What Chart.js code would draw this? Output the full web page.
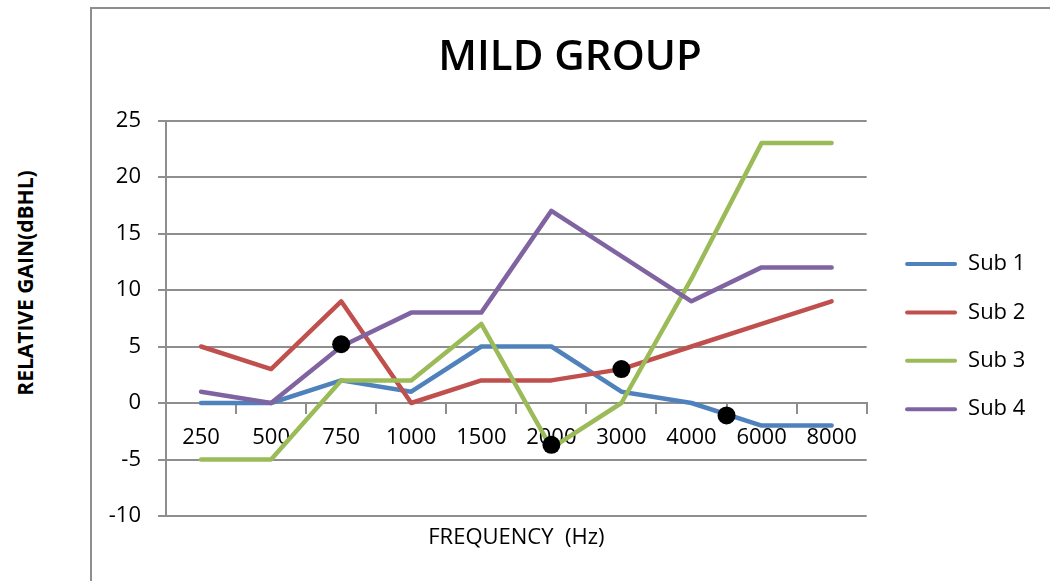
<!DOCTYPE html>
<html>
<head>
<meta charset="utf-8">
<title>MILD GROUP</title>
<script src="https://cdn.jsdelivr.net/npm/chart.js@4.4.1/dist/chart.umd.min.js"></script>
<style>
  html, body { margin: 0; padding: 0; background: #fff; width: 1050px; height: 581px; overflow: hidden; }
  #frame { position: absolute; left: 90px; top: 7px; width: 1100px; height: 700px;
           border-left: 2px solid #8e8e8e; border-top: 2px solid #8e8e8e; }
  #wrap { position: absolute; left: 91px; top: 8px; width: 959px; height: 573px; }
  #ytitle { position: absolute; left: 25px; top: 283px; transform: translate(-50%, -50%) rotate(-90deg);
            font: bold 21px 'Open Sans', sans-serif; color: #000; white-space: nowrap; }
</style>
</head>
<body>
<div id="frame"></div>
<div id="ytitle">RELATIVE GAIN(dBHL)</div>
<div id="wrap"><canvas id="chart" width="959" height="573"></canvas></div>
<script>
// Test frequencies (Hz)
const frequencies = ['250', '500', '750', '1000', '1500', '2000', '3000', '4000', '6000', '8000'];

// Relative gain (dBHL) per subject
const sub1 = [0, 0, 2, 1, 5, 5, 1, 0, -2, -2];
const sub2 = [5, 3, 9, 0, 2, 2, 3, 5, 7, 9];
const sub3 = [-5, -5, 2, 2, 7, -4, 0, 11, 23, 23];
const sub4 = [1, 0, 5, 8, 8, 17, 13, 9, 12, 12];

// Marked points: position along the frequency axis (category index) and gain
const markX = [2, 5, 6, 7.5];
const markY = [5.2, -3.7, 3, -1.1];

const seriesNames = ['Sub 1', 'Sub 2', 'Sub 3', 'Sub 4'];
const seriesColors = ['#4F81BD', '#C0504D', '#9BBB59', '#8064A2'];
const seriesValues = [sub1, sub2, sub3, sub4];

const FONT = "'Open Sans', sans-serif";
const GRID = '#8e8e8e';

Chart.defaults.font.family = FONT;
Chart.defaults.color = '#000';

const lineSets = seriesValues.map((vals, i) => ({
  type: 'line',
  label: seriesNames[i],
  data: vals,
  borderColor: seriesColors[i],
  backgroundColor: seriesColors[i],
  borderWidth: 4.5,
  pointRadius: 0,
  pointHoverRadius: 0,
  tension: 0,
  borderCapStyle: 'round',
  borderJoinStyle: 'round',
  fill: false,
  order: 4 - i,          // later subjects are drawn over earlier ones
  xAxisID: 'x',
  yAxisID: 'y'
}));

const markSet = {
  type: 'scatter',
  label: 'marks',
  data: markX.map((x, i) => ({ x: x, y: markY[i] })),
  backgroundColor: '#000',
  borderWidth: 0,
  pointRadius: 9,
  pointHoverRadius: 9,
  showLine: false,
  order: 0,
  xAxisID: 'xMarks',
  yAxisID: 'yMarks'
};

new Chart(document.getElementById('chart'), {
  type: 'line',
  data: {
    labels: frequencies,
    datasets: lineSets.concat([markSet])
  },
  options: {
    responsive: false,
    animation: false,
    events: [],
    layout: { padding: { left: 16, right: 17, top: 0, bottom: 0 } },
    plugins: {
      tooltip: { enabled: false },
      title: {
        display: true,
        text: 'MILD GROUP',
        color: '#000',
        font: { family: FONT, size: 42, weight: '600', lineHeight: 1.2 },
        padding: { top: 24.8, bottom: 37.3 }
      },
      legend: {
        position: 'right',
        align: 'start',
        title: { display: true, text: '', font: { size: 10, lineHeight: 1.2 }, padding: { top: 206.6, bottom: 0 } },
        labels: {
          boxWidth: 52,
          boxHeight: 4,
          padding: 26.4,
          color: '#000',
          font: { family: FONT, size: 22 },
          useBorderRadius: true,
          borderRadius: 2,
          filter: (item) => item.datasetIndex < seriesNames.length,
          sort: (a, b) => a.datasetIndex - b.datasetIndex,
          generateLabels: (chart) =>
            Chart.defaults.plugins.legend.labels.generateLabels(chart).map(it =>
              Object.assign(it, { lineWidth: 0, fillStyle: seriesColors[it.datasetIndex] || it.fillStyle }))
        }
      }
    },
    scales: {
      x: {
        type: 'category',
        position: { y: 0 },
        offset: true,
        grid: { display: true, drawOnChartArea: false, drawTicks: true, tickLength: 10, offset: true, color: GRID, lineWidth: 2 },
        border: { display: true, color: GRID, width: 2 },
        ticks: { color: '#000', font: { family: FONT, size: 22 }, padding: 12, maxRotation: 0, autoSkip: false }
      },
      xMarks: {
        type: 'linear',
        position: 'bottom',
        min: -0.5,
        max: 9.5,
        grid: { display: false },
        border: { display: false },
        ticks: { display: false },
        title: {
          display: true,
          text: 'FREQUENCY  (Hz)',
          color: '#000',
          font: { family: FONT, size: 22, lineHeight: 1.2 },
          padding: { top: 8.3, bottom: 30.3 }
        },
        afterFit: (scale) => { scale.height = 65; }
      },
      y: {
        type: 'linear',
        position: 'left',
        min: -10,
        max: 25,
        ticks: { stepSize: 5, color: '#000', font: { family: FONT, size: 22 }, padding: 17 },
        grid: { color: GRID, lineWidth: 2, drawTicks: true, tickLength: 8 },
        border: { display: true, color: GRID, width: 2 },
        afterFit: (scale) => { scale.width = 59; }
      },
      yMarks: {
        type: 'linear',
        position: 'right',
        min: -10,
        max: 25,
        grid: { display: false },
        border: { display: false },
        ticks: { display: false },
        afterFit: (scale) => { scale.width = 12; }
      }
    }
  }
});
</script>
</body>
</html>
